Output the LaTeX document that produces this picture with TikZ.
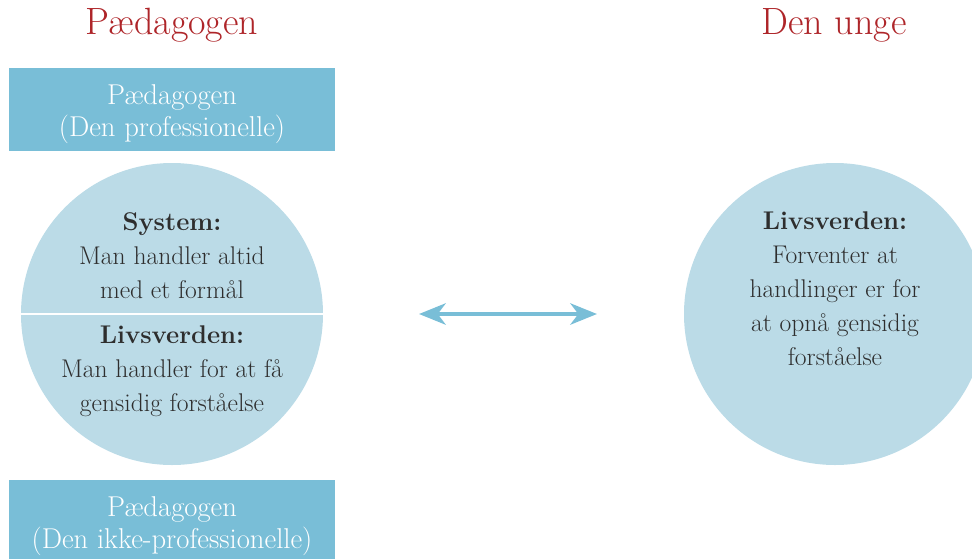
\documentclass[tikz,border=0pt]{standalone}
\usepackage{fontspec}
\usetikzlibrary{arrows.meta}
\definecolor{titlered}{HTML}{AE2529}
\definecolor{boxblue}{HTML}{79BED7}
\definecolor{circblue}{HTML}{BBDBE7}
\definecolor{inktext}{HTML}{2E2E2E}
\begin{document}
\begin{tikzpicture}[x=0.75pt,y=-0.75pt,
  heading/.style={text=titlered,font=\fontsize{28.5}{32}\selectfont},
  rolebox/.style={fill=boxblue,minimum width=244.5pt,minimum height=62.25pt,inner sep=0pt},
  roletext/.style={text=white,align=center,font=\fontsize{21.5}{24}\selectfont},
  disc/.style={circle,fill=circblue,minimum size=226.5pt,inner sep=0pt},
  disctext/.style={text=inktext,align=center,font=\fontsize{19.2}{25.5}\selectfont},
  twoway/.style={draw=boxblue,line width=3pt,
    {Stealth[length=20pt,width=16pt,inset=6pt]}-{Stealth[length=20pt,width=16pt,inset=6pt]}}
]
\useasboundingbox (0,0) rectangle (972,558);
\clip (0,0) rectangle (972,558);

% column headings
\node[heading] (hleft) at (172,25) {Pædagogen};
\node[heading] (hright) at (834,25) {Den unge};

% role boxes
\node[rolebox] (boxtop) at (172,109.5) {};
\node[roletext] (toptext) at (172,114.5) {Pædagogen\\(Den professionelle)};
\node[rolebox] (boxbot) at (172,521.5) {};
\node[roletext] (bottext) at (172,526) {Pædagogen\\(Den ikke-professionelle)};

% left disc, split in two halves
\node[disc] (discl) at (172,314) {};
\draw[white,line width=1.5pt] (discl.west) -- (discl.east);
\node[disctext] (sys) at (172,256) {\textbf{System:}\\Man handler altid\\med et formål};
\node[disctext] (lvl) at (172,371) {\textbf{Livsverden:}\\Man handler for at få\\gensidig forståelse};

% right disc
\node[disc] (discr) at (835,314) {};
\node[disctext] (lvr) at (835,289) {\textbf{Livsverden:}\\Forventer at\\handlinger er for\\at opnå gensidig\\forståelse};

% exchange arrow
\coordinate (al) at (419,314);
\coordinate (ar) at (597,314);
\draw[twoway] (al) -- (ar);
\end{tikzpicture}
\end{document}
